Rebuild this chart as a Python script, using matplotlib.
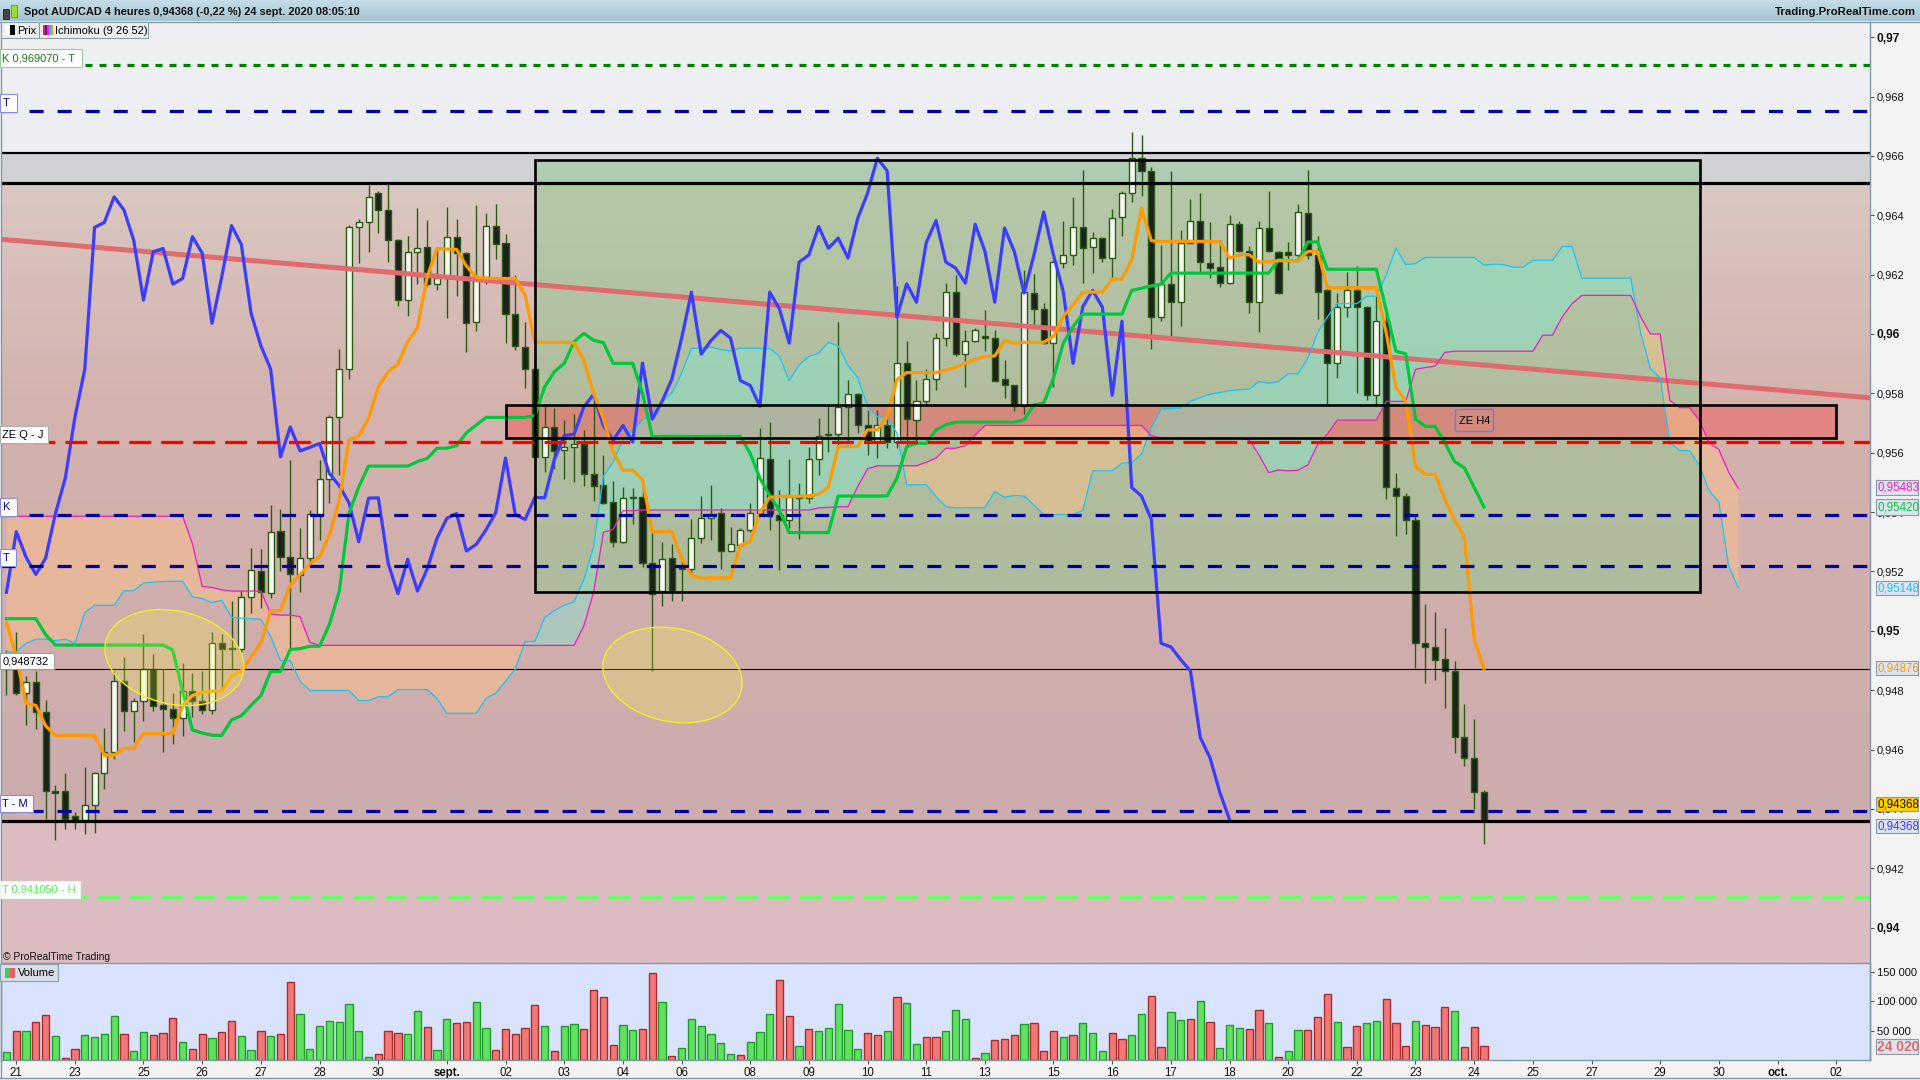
import numpy as np
import matplotlib
matplotlib.use("Agg")
import matplotlib.pyplot as plt
from matplotlib.patches import Ellipse, Rectangle, FancyBboxPatch

plt.rcParams['font.family'] = ['Liberation Sans', 'DejaVu Sans']
plt.rcParams['lines.scale_dashes'] = False

# candles, one per 4h bar
open_ = [
    .9489, .9487, .94792, .94827, .94726, .94459, .94459, .94375, .94364, .94413,
    .9452, .94592, .9483, .94729, .94763, .94873, .9475, .94737, .94705, .94796,
    .94763, .94732, .94958, .9494, .9494, .95115, .95202, .95126, .95336, .95248,
    .95187, .95245, .95395, .95513, .95721, .95881, .96359, .96376, .96474, .96418,
    .96316, .96114, .96277, .96292, .96168, .96187, .96328, .96272, .96039, .96193,
    .96365, .96305, .96069, .95957, .95881, .95586, .95687, .95609, .95618, .95631,
    .9553, .95491, .95433, .953, .95452, .95452, .95228, .95134, .95244, .95214,
    .95209, .95312, .95379, .95398, .95269, .95289, .9534, .95398, .95578, .9539,
    .95375, .9545, .95448, .95578, .9566, .95663, .95754, .95797, .95692, .95641,
    .95695, .95636, .95902, .95709, .95773, .95848, .95986, .96141, .95932, .95975,
    .95992, .95986, .95848, .95829, .95758, .96138, .96084, .95969, .9624, .96266,
    .96362, .96292, .96323, .96256, .96394, .96474, .96592, .9655, .96057, .96168,
    .96107, .96308, .96382, .9624, .96224, .96171, .9637, .96278, .96107, .96357,
    .96276, .96275, .96267, .96409, .96266, .96147, .95901, .96092, .96147, .9609,
    .95793, .96043, .9548, .95454, .95375, .94958, .94946, .94906, .94865, .94641,
    .94572, .94456]
high = [
    .94935, .94995, .94848, .94865, .94767, .9448, .94521, .9439, .9454, .94526,
    .94673, .94865, .94912, .94773, .94989, .94921, .9487, .9479, .94891, .94859,
    .94865, .94995, .94989, .95099, .95138, .9528, .95274, .95424, .95409, .95577,
    .95345, .95407, .95575, .95727, .95951, .96367, .96389, .96502, .9648, .96513,
    .9632, .9633, .96425, .96384, .9629, .96429, .96386, .96277, .96434, .96406,
    .96438, .96337, .96199, .96039, .959, .9576, .95749, .9571, .95732, .95676,
    .958, .95592, .95505, .95486, .9548, .9549, .95329, .95299, .95293, .9525,
    .95376, .95453, .95491, .95414, .95349, .95347, .9543, .95683, .95705, .95476,
    .95578, .95497, .95619, .95716, .95758, .9604, .95846, .958, .95745, .95745,
    .95722, .9616, .95977, .95846, .95882, .96003, .96171, .96199, .96014, .9602,
    .96081, .96014, .95913, .95829, .96216, .96203, .96104, .9625, .96381, .96463,
    .96553, .96345, .96328, .9642, .96483, .96679, .96671, .96564, .963, .9655,
    .96351, .96455, .96475, .96378, .96317, .96402, .96382, .96297, .96381, .9648,
    .9628, .96309, .96438, .96552, .9633, .9615, .96139, .96208, .96229, .96095,
    .96127, .9609, .95532, .95464, .95388, .95089, .95062, .9501, .94898, .94753,
    .94703, .94465]
low = [
    .94784, .94784, .94683, .94668, .94366, .94297, .94334, .94334, .94316, .9432,
    .94468, .94569, .94662, .94624, .94697, .94729, .94592, .94619, .94645, .94711,
    .9472, .9472, .94807, .9487, .9493, .9506, .95077, .95109, .952, .94935,
    .9513, .95225, .95306, .95429, .95525, .9585, .9624, .96277, .96341, .96243,
    .96095, .96062, .9617, .9616, .96148, .96053, .96128, .9594, .9601, .9617,
    .96252, .95971, .95946, .95817, .9558, .95536, .95546, .95511, .95503, .95488,
    .95439, .95426, .95284, .95295, .9536, .95216, .94866, .95085, .95102, .95102,
    .95195, .95295, .95306, .95209, .95269, .95285, .95334, .95395, .9534, .95205,
    .95347, .95308, .9543, .95526, .95601, .95615, .95632, .95666, .95593, .95582,
    .95615, .95615, .95621, .95632, .95765, .9581, .95958, .95925, .95821, .95972,
    .95941, .95843, .95786, .95739, .95731, .96025, .95965, .95821, .96222, .96233,
    .96171, .96207, .96241, .9619, .96331, .96443, .96466, .95949, .96045, .95992,
    .96028, .96305, .96207, .9619, .96158, .96168, .96275, .96072, .96008, .96275,
    .96135, .96214, .96262, .96253, .96052, .95762, .95852, .96058, .95802, .95779,
    .95762, .95443, .95321, .95327, .94874, .94825, .94836, .94741, .9459, .94546,
    .94401, .94283]
close = [
    .9487, .94792, .94827, .94726, .94459, .94455, .94366, .94364, .94413, .9452,
    .94592, .9483, .94729, .94763, .9487, .94746, .94737, .94705, .94796, .94763,
    .94732, .94958, .94938, .94942, .95115, .95204, .9513, .95334, .95248, .9519,
    .95245, .95395, .95513, .95721, .95881, .96359, .96376, .96462, .96418, .96316,
    .96114, .96277, .96288, .96168, .96187, .96328, .96272, .96036, .96193, .96365,
    .96302, .96069, .9596, .95881, .95586, .95687, .95606, .95618, .95631, .9553,
    .95489, .95432, .953, .95447, .95448, .95228, .95125, .95241, .95134, .95209,
    .95312, .95379, .95395, .95269, .95291, .9534, .95398, .95582, .95392, .95375,
    .9545, .95448, .95578, .95658, .95662, .95754, .95797, .95692, .95641, .95692,
    .95636, .95902, .95713, .95773, .95848, .95986, .96141, .95932, .95978, .96012,
    .95986, .95843, .95827, .95756, .96141, .96084, .95969, .96242, .96266, .96362,
    .96289, .96323, .96256, .9639, .96474, .96592, .9655, .96057, .96169, .96107,
    .96308, .96382, .96242, .96222, .96171, .9637, .96278, .96107, .96357, .96278,
    .96138, .96265, .96411, .96266, .96143, .95901, .96092, .96147, .9609, .95793,
    .96043, .95483, .95454, .95375, .94958, .94946, .94903, .94865, .94641, .94572,
    .94456, .94364]

tenkan = [
    .95028, .94912, .94755, .94749, .9468, .94648, .94648, .94648, .94648, .94648,
    .94581, .94581, .94604, .94604, .94654, .94654, .94654, .94654, .94749, .94782,
    .94793, .94797, .94797, .94848, .94865, .94912, .94961, .95068, .95068, .95155,
    .9519, .95225, .9525, .95323, .9544, .95643, .95656, .95716, .95822, .95873,
    .95898, .95974, .96021, .96193, .96288, .96286, .96285, .96229, .96191, .96188,
    .96187, .96187, .96187, .96131, .95972, .95972, .95972, .95972, .9597, .95912,
    .958, .95715, .95603, .95541, .95541, .95508, .95334, .95334, .95334, .95244,
    .95186, .95177, .95179, .95179, .95179, .95289, .95299, .95398, .9545, .95453,
    .95453, .95453, .95455, .9546, .95484, .95621, .95621, .95621, .95677, .95677,
    .95722, .95846, .9587, .9587, .9587, .9587, .95879, .95887, .95902, .95915,
    .95924, .95926, .95978, .95969, .95972, .95972, .95972, .95992, .96059, .96098,
    .96141, .96141, .96141, .96185, .96185, .9625, .96424, .96314, .96312, .96312,
    .96312, .96312, .96312, .96312, .9631, .96256, .96267, .96267, .96242, .96244,
    .96247, .96247, .96247, .96278, .96278, .96156, .96156, .96156, .96156, .96156,
    .96156, .96005, .9582, .95773, .95553, .95527, .95527, .95443, .95373, .95315,
    .9497, .94874]
kijun = [
    .95041, .95041, .95041, .95041, .94987, .94952, .94952, .94952, .94952, .94952,
    .94952, .94952, .94952, .94952, .94952, .94952, .94952, .94935, .94796, .94666,
    .94656, .94648, .94648, .947, .94714, .94749, .94782, .94863, .94863, .94937,
    .9494, .94948, .94948, .95022, .95132, .95395, .95485, .95555, .95555, .95555,
    .95555, .95555, .9557, .95581, .95615, .95615, .95624, .95667, .95693, .95719,
    .95719, .95719, .95719, .95719, .95725, .95822, .95873, .95901, .95974, .96002,
    .95979, .95971, .95901, .95901, .95901, .958, .95654, .95655, .95655, .95655,
    .95655, .95655, .95655, .95655, .95655, .95655, .95598, .95514, .95456, .95405,
    .95331, .95331, .95331, .95331, .95331, .95454, .95454, .95454, .95454, .95454,
    .95455, .95514, .9562, .95632, .95632, .95677, .95694, .95703, .95703, .95703,
    .95703, .95703, .95703, .95703, .95711, .95761, .95767, .95851, .95969, .96025,
    .96067, .96067, .96067, .96067, .96067, .96147, .96154, .96162, .96168, .96205,
    .96205, .96205, .96205, .96205, .96205, .96205, .96205, .96205, .96205, .96205,
    .9625, .96247, .96247, .9631, .9631, .96218, .96218, .96218, .96218, .96218,
    .96218, .96081, .95942, .95933, .95713, .95689, .95689, .95634, .9557, .95549,
    .95483, .95417]
# chikou is the close drawn 26 bars back
chikou = close[26:]
senkou_a = [
    .94929, .94929, .94958, .94972, .94972, .94967, .94972, .94958, .95062, .95086,
    .95086, .95086, .95135, .95135, .95161, .95164, .95166, .95167, .95167, .95115,
    .95109, .95095, .95103, .95045, .95043, .95041, .95039, .94981, .949, .949,
    .9483, .94799, .94799, .94799, .94799, .94799, .94765, .94765, .94778, .94778,
    .94802, .94802, .94802, .94802, .94772, .94722, .94722, .94722, .94722, .94772,
    .9479, .9483, .94871, .94964, .94964, .95045, .95068, .95086, .95098, .95171,
    .95284, .9552, .95569, .95642, .95676, .95711, .95728, .95773, .95801, .95868,
    .95952, .95952, .95956, .95947, .95943, .95952, .95952, .95952, .95952, .95924,
    .95843, .95896, .95924, .95935, .95972, .9596, .95894, .95853, .95756, .95722,
    .95716, .95666, .95492, .95492, .95492, .95453, .95418, .95414, .95415, .95415,
    .95415, .95469, .9545, .95456, .95454, .95424, .95392, .95392, .95392, .95392,
    .95405, .95539, .95539, .95539, .95565, .95567, .95596, .95683, .95747, .95749,
    .9575, .95773, .95786, .95797, .95803, .95809, .95812, .95814, .9584, .95834,
    .9584, .95866, .95866, .95918, .96005, .96058, .96102, .96102, .96102, .96127,
    .96127, .96197, .9629, .96234, .96237, .96258, .96258, .96258, .96258, .96258,
    .96258, .96232, .96235, .96234, .96225, .96225, .96248, .96248, .96248, .96295,
    .96295, .96188, .96188, .96188, .96188, .96188, .96188, .96005, .95884, .95852,
    .95634, .95607, .95607, .95559, .95472, .95435, .95219, .95144]
senkou_b = [
    .95386, .95386, .95386, .95386, .95386, .95386, .95386, .95386, .95386, .95386,
    .95386, .95386, .95386, .95386, .95386, .95386, .95386, .95386, .95386, .95294,
    .9515, .95146, .95138, .95134, .95134, .95134, .95134, .95057, .95053, .95053,
    .95048, .94961, .94951, .94951, .94951, .94951, .94951, .94951, .94951, .94951,
    .94951, .94951, .94951, .94951, .94951, .94951, .94951, .94951, .94951, .94951,
    .94951, .94951, .94951, .94951, .94951, .94951, .94951, .94951, .94951, .95016,
    .9513, .95332, .95342, .95405, .95405, .95407, .95407, .95407, .95407, .95407,
    .95407, .95407, .95407, .95407, .95407, .95407, .95407, .95407, .95407, .95407,
    .95407, .95407, .95407, .95414, .95416, .95418, .95418, .95486, .95546, .95556,
    .95556, .95556, .95556, .95556, .95568, .95582, .95615, .95615, .95624, .9566,
    .95692, .95692, .95692, .95692, .95692, .95692, .95692, .95692, .95692, .95692,
    .95692, .95692, .95692, .95692, .95692, .95692, .95692, .95657, .9565, .9565,
    .9565, .9565, .9565, .9565, .9565, .9565, .9565, .95643, .95593, .95533,
    .95542, .95539, .95541, .95559, .95628, .95663, .9571, .9571, .9571, .9571,
    .9571, .95773, .95773, .95773, .95881, .95887, .95892, .95938, .95942, .95942,
    .95942, .95942, .95942, .95942, .95942, .95942, .95942, .95996, .95996, .96058,
    .96102, .9613, .9613, .9613, .9613, .9613, .9613, .96058, .96, .96,
    .95776, .95752, .95752, .9571, .95634, .95611, .95535, .9548]

# volume in thousands, g = green bar, r = red bar
volume_k = [
    12.9, 48.6, 48.6, 64.4, 76.1, 40.4, 2.9, 18.7, 42.1, 38.6,
    43.9, 74.3, 43.9, 14.6, 46.8, 42.1, 45, 70.8, 29.8, 18.7,
    43.9, 36.9, 46.8, 65.5, 40.4, 16.4, 48.6, 40.4, 43.9, 131.6,
    77.8, 18.7, 57.3, 65.5, 63.8, 94.8, 48.6, 4.7, 9.4, 48.6,
    45, 43.9, 82.5, 55.6, 16.4, 69, 62.6, 63.8, 97.7, 53.8,
    16.4, 52.1, 43.9, 53.8, 93, 57.3, 14.6, 57.3, 60.8, 52.1,
    118.2, 106.5, 25.2, 59.1, 50.3, 52.7, 147.6, 98.8, 7.2, 20.8,
    69.6, 57.9, 44.2, 29.3, 10.4, 8.5, 30.6, 47.5, 78, 135.9,
    74.8, 24, 52.7, 49.4, 54.6, 95.6, 51.4, 18.9, 46.2, 42.9,
    49.4, 107.3, 96.9, 27.3, 39, 39, 49.4, 85.2, 69.6, 3.3,
    12.4, 34.5, 35.8, 42.9, 61.1, 63, 15.6, 49.4, 39, 42.9,
    63, 46.2, 15.6, 46.2, 35.8, 42.9, 78, 109.2, 22.1, 81.9,
    68.3, 69.6, 100.1, 65, 20.8, 59.8, 54.6, 52.7, 85.2, 63,
    5.2, 14.6, 50.3, 50.3, 72.5, 111.7, 63.8, 21.6, 57.3, 62.6,
    65.5, 103, 62.6, 23.4, 65.5, 59.1, 55.6, 89.5, 82.5, 21.6,
    55.6, 23.4]
volume_dir = ("grgrrgrrgggg" "rggrrrgrrgrr" "ggrgrrgggggg" "ggrrrggrggrr" "ggrrrrrgrggr"
              "rrrggrrgrggg" "gggrgggrrgrg" "ggggrrgrggrr" "gggrgrrrgrrr" "grgggrrggrrg"
              "grgrgggrrgrg" "grrrgrrggrrr" "grrrgrrrrr")[:152]

date_pos = [1, 7, 14, 20, 26, 32, 38, 45, 51, 57, 63, 69, 76, 82, 88, 94, 100, 107, 113,
            119, 125, 131, 138, 144, 150, 156, 162, 169, 175, 181, 187]
date_labels = ['21', '23', '25', '26', '27', '28', '30', 'sept.', '02', '03', '04', '06', '08',
               '09', '10', '11', '13', '15', '16', '17', '18', '20', '22', '23', '24', '25',
               '27', '29', '30', 'oct.', '02']
price_ticks = [.94, .942, .944, .946, .948, .95, .952, .954, .956, .958, .96, .962, .964, .966, .968, .97]
vol_ticks = [50000, 100000, 150000]

# levels drawn by hand on the chart
level_green_dot = .96907
levels_navy = [.9675, .95389, .9522, .94392]
level_red = .95635
level_lime = .94103
level_thin = .94873
band_top, band_bottom, floor = .9661, .96508, .9436
trend_y = [.96319, .95785]
box_green = (53.98, 173.07, .95132, .96587)
box_zone = (51.0, 187, .9565, .95762)

W, H = 1920, 1080
L, R, PT, PB, VB = 1, 1870, 22, 963, 1060
fig = plt.figure(figsize=(19.2, 10.8), dpi=100, facecolor='#f3f3f3')
ax = fig.add_axes([L/W, 1-PB/H, (R-L)/W, (PB-PT)/H])
vax = fig.add_axes([L/W, 1-VB/H, (R-L)/W, (VB-PB)/H], sharex=ax)
ov = fig.add_axes([0, 0, 1, 1], zorder=10)
ov.patch.set_visible(False)
ov.axis('off')

xlim = (-0.562, 190.45)
ylim = (.93881, .97051)


def vgrad(a, stops, lo, hi, z=0):
    # vertical colour ramp between two prices, stops run top to bottom
    cols = np.array([matplotlib.colors.to_rgb(s) for s in stops])
    t = np.linspace(0, 1, 200)
    img = np.stack([np.interp(t, np.linspace(0, 1, len(cols)), cols[:, k]) for k in range(3)], axis=1)[:, None, :]
    a.imshow(img, extent=(xlim[0], xlim[1], lo, hi), aspect='auto', zorder=z, origin='upper')


vgrad(ax, ['#f1f1f2', '#eceef3'], band_top, ylim[1])
vgrad(ax, ['#d2d3d7', '#d0d1d5'], band_bottom, band_top)
vgrad(ax, ['#d9c8c1', '#d4b3ae', '#d0aeac', '#ccacae'], floor, band_bottom)
vgrad(ax, ['#dcbdc1', '#dcbcc0'], ylim[0], floor)

# boxes
ax.add_patch(Rectangle((box_green[0], box_green[2]), box_green[1]-box_green[0], box_green[3]-box_green[2],
                       fc='#90c890', alpha=.5, ec='none', zorder=1))
ax.add_patch(Rectangle((box_zone[0], box_zone[2]), box_zone[1]-box_zone[0], box_zone[3]-box_zone[2],
                       fc='#f06060', alpha=.55, ec='none', zorder=1))

# cloud
xc = np.arange(len(senkou_a))
sa, sb = np.array(senkou_a), np.array(senkou_b)
ax.fill_between(xc, sa, sb, where=sa >= sb, interpolate=True, color='#84e8d0', alpha=.45, lw=0, zorder=2)
ax.fill_between(xc, sa, sb, where=sa < sb, interpolate=True, color='#fbc08c', alpha=.5, lw=0, zorder=2)

# candles
xb = np.arange(len(close))
o, h, l, c = map(np.array, (open_, high, low, close))
ax.vlines(xb, l, h, color='#2c5a12', lw=1, zorder=3)
up = c > o
wick_col = '#2a5a14'
ax.bar(xb[up], (c-o)[up], bottom=o[up], width=.62, color='#f8f8f2', edgecolor=wick_col, lw=1, zorder=4)
ax.bar(xb[~up], (o-c)[~up], bottom=c[~up], width=.62, color='#1c211c', edgecolor=wick_col, lw=1, zorder=4)

# levels
ax.axhline(level_thin, color='black', lw=.8, zorder=5)
ax.plot(xlim, trend_y, color='#e06a6e', lw=3.6, zorder=6, solid_capstyle='butt')
ax.plot(xc, sa, color='#20c4f0', lw=.95, zorder=6)
ax.plot(xc, sb, color='#f020c0', lw=.95, zorder=6)
ax.plot(np.arange(len(chikou)), chikou, color='#3c3cff', lw=2.3, zorder=7)
ax.plot(xb, kijun, color='#00c83c', lw=2.3, zorder=7)
ax.plot(xb, tenkan, color='#ff9a00', lw=2.3, zorder=7)

ax.axhline(level_green_dot, color='#008000', lw=2.3, ls=(0, (5.04, 5.04)), zorder=8)
for lv in levels_navy:
    ax.axhline(lv, color='#0000a0', lw=2.3, ls=(0, (10.1, 10.1)), zorder=8)
ax.axhline(level_red, color='#ff0000', lw=2.3, ls=(0, (15.8, 7.2)), zorder=8)
ax.axhline(level_lime, color='#66ff66', lw=2.3, ls=(0, (15.8, 7.2)), zorder=8)

ax.axhline(band_top, color='black', lw=1.6, zorder=8)
ax.axhline(band_bottom, color='black', lw=2.3, zorder=8)
ax.axhline(floor, color='black', lw=2.3, zorder=8)
for b in (box_green, box_zone):
    ax.add_patch(Rectangle((b[0], b[2]), b[1]-b[0], b[3]-b[2], fc='none', ec='black', lw=1.9, zorder=8))

ax.set_xlim(xlim)
ax.set_ylim(ylim)
ax.yaxis.tick_right()
ax.set_yticks(price_ticks)
ax.set_yticklabels([('%g' % t).replace('.', ',') if round(t*100) == t*100 or len('%g' % t) < 5
                    else ('%.3f' % t).replace('.', ',') for t in price_ticks])
for t, lab in zip(price_ticks, ax.get_yticklabels()):
    lab.set_fontsize(8)
    lab.set_color('#111111')
    if len(lab.get_text()) == 4:
        lab.set_fontweight('bold')
        lab.set_fontsize(8.6)
ax.tick_params(axis='y', length=3, width=.8, pad=2, color='#555555')
ax.tick_params(axis='x', bottom=False, labelbottom=False)
for s in ax.spines.values():
    s.set_visible(False)

# volume panel
vax.set_facecolor('#d9e3fd')
for i, vv in enumerate(volume_k):
    if volume_dir[i] == 'g':
        vax.bar(i, vv*1000, width=.74, color='#62e062', edgecolor='#1f9c2a', lw=1)
    else:
        vax.bar(i, vv*1000, width=.74, color='#f27878', edgecolor='#a82c2c', lw=1)
vax.set_ylim(0, 164700)
vax.set_xlim(xlim)
vax.yaxis.tick_right()
vax.set_yticks(vol_ticks)
vax.set_yticklabels(['50 000', '100 000', '150 000'], fontsize=8, color='#111111')
vax.tick_params(axis='y', length=3, width=.8, pad=2, color='#555555')
vax.set_xticks(date_pos)
vax.set_xticklabels(date_labels, fontsize=8.3, color='#111111')
for lab in vax.get_xticklabels():
    if not lab.get_text().isdigit():
        lab.set_fontweight('bold')
vax.tick_params(axis='x', length=3, width=.8, pad=2, color='#555555')
for s in vax.spines.values():
    s.set_color('#7f99a8')
    s.set_linewidth(1)
vax.spines['top'].set_visible(True)

# overlay in pixels: title bar, tags, ellipses
ramp = np.linspace(0, 1, 40)[:, None, None]
bar_img = (1-ramp)*np.array(matplotlib.colors.to_rgb('#c6dde9')) + ramp*np.array(matplotlib.colors.to_rgb('#a4c3cf'))
ov.imshow(bar_img, extent=(0, W, 21, 0), aspect='auto', zorder=1)
ov.plot([0, W], [21.5, 21.5], color='#7f99a8', lw=1, zorder=2)
ov.plot([0, W], [1077.5, 1077.5], color='#7f99a8', lw=1, zorder=2)
ov.plot([.5, .5], [22, 1078], color='#7f99a8', lw=1, zorder=2)
ov.plot([1870, 1870], [22, 1060], color='#7f99a8', lw=1, zorder=2)

for cx, cy, ang in ((174.4, 657.6, 13), (672.5, 675, 12)):
    ov.add_patch(Ellipse((cx, cy), 141, 93, angle=ang, fc=(1, 1, .2, .22), ec='#f5ee20', lw=1, zorder=3))


def tag(x0, y0, x1, y1, text, col='black', ec='#9a9aa8', fc='white', fs=8, tx=None, weight='normal', z=5):
    ov.add_patch(Rectangle((x0, y0), x1-x0, y1-y0, fc=fc, ec=ec, lw=.8, zorder=z))
    ov.text(x0+2.5 if tx is None else tx, (y0+y1)/2+.3, text, color=col, fontsize=fs, va='center', ha='left',
            fontweight=weight, zorder=z+1)


# title bar
ov.add_patch(Rectangle((3, 9), 6, 10, fc='#444444', ec='#222222', lw=.6, zorder=3))
ov.add_patch(Rectangle((11, 5), 6, 12, fc='#9adf30', ec='#5a9a10', lw=.6, zorder=3))
ov.text(24, 12, 'Spot AUD/CAD 4 heures 0,94368 (-0,22 %) 24 sept. 2020 08:05:10', fontsize=7.9,
        fontweight='bold', color='#101010', va='center', zorder=3)
ov.text(1916, 12, 'Trading.ProRealTime.com', fontsize=8.2, fontweight='bold', color='#101010',
        va='center', ha='right', zorder=3)

# legend tags
tag(1, 22, 39, 38, '', fc='#eceef0', ec='#86a0ae')
ov.add_patch(Rectangle((5, 25), 5, 10, fc='white', ec='none', zorder=6))
ov.add_patch(Rectangle((10, 25), 5, 10, fc='black', ec='none', zorder=6))
ov.text(17, 30.5, 'Prix', fontsize=8, va='center', zorder=6)
tag(39, 22, 148, 38, '', fc='#eceef0', ec='#86a0ae')
for k, col in enumerate(['#ff2020', '#2020ff', '#ff20c0', '#20c0f0', '#ff9a00']):
    ov.add_patch(Rectangle((43+2*k, 25), 2, 10, fc=col, ec='none', zorder=6))
ov.text(55, 30.5, 'Ichimoku (9 26 52)', fontsize=8, va='center', zorder=6)

tag(0, 49, 82, 67, 'K 0,969070 - T', col='#1b7a1b', ec='#9cc89c')
tag(0, 94, 17, 112, 'T', ec='#8a8ad8', col='#000080')
tag(0, 426, 47.5, 443, 'ZE Q - J', ec='#b0b0b0')
tag(0, 498, 17, 516, 'K', ec='#8a8ad8', col='#000080')
tag(0, 549, 16, 566, 'T', ec='#8a8ad8', col='#000080')
tag(0, 652.5, 54, 669, '0,948732', ec='#a0a0a0')
tag(0, 795, 33, 812, 'T - M', ec='#8a8ad8', col='#000080')
tag(0, 881, 80, 898, 'T 0,941050 - H', col='#55ee55', ec='#e8f8e8')
ov.text(3, 957, '\u00a9 ProRealTime Trading', fontsize=7.4, va='center', color='#111111', zorder=6)

tag(0, 964, 58, 981, '', fc='#d6dde4', ec='#86a0ae')
ov.add_patch(Rectangle((5, 968), 5, 10, fc='#50c850', ec='none', zorder=6))
ov.add_patch(Rectangle((10, 968), 5, 10, fc='#e86060', ec='none', zorder=6))
ov.text(18, 972.5, 'Volume', fontsize=8, va='center', zorder=6)

ov.add_patch(FancyBboxPatch((1457, 411), 35, 19, boxstyle='round,pad=1.5', fc=(1, 1, 1, 0), ec='#6a7ed8', lw=1, zorder=6))
ov.text(1474.5, 421, 'ZE H4', fontsize=8, ha='center', va='center', zorder=7)

# value tags on the price scale
for y0, y1, txt, col in ((480, 495, '0,95483', '#f020c0'), (499, 515, '0,95420', '#00c83c'),
                         (580.5, 595, '0,95148', '#20c4f0'), (660.5, 675, '0,94876', '#ff9a00'),
                         (819, 833, '0,94368', '#3c3cff')):
    tag(1875.5, y0, 1917.5, y1, txt, col=col, ec='#8a9aa6', fc='#dde4ee', fs=8.3, tx=1877)
tag(1875.5, 796.5, 1917.5, 811, '0,94368', col='#111111', ec='#8a9aa6', fc='#ffcc00', fs=8.3, tx=1877)
tag(1875.5, 1038.5, 1917.5, 1054, '24 020', col='#e06a6e', ec='#8a9aa6', fc='#dde4ee', fs=10, tx=1877, weight='bold')

ov.set_xlim(0, W)
ov.set_ylim(H, 0)

fig.savefig('out.png', dpi=100, facecolor=fig.get_facecolor())
